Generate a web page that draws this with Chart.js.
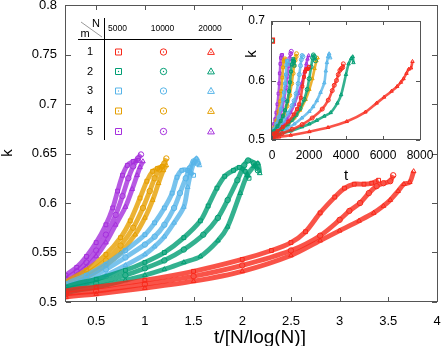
<!DOCTYPE html>
<html>
<head>
<meta charset="utf-8">
<script src="https://cdn.jsdelivr.net/npm/chart.js@4"></script>
<style>
  html, body { margin: 0; padding: 0; background: #fff; }
  #wrap { position: relative; width: 443px; height: 346px; }
  #main { position: absolute; left: 0; top: 0; }
  #inset { position: absolute; left: 220px; top: 0; }
</style>
</head>
<body>
<div id="wrap">
  <canvas id="main" width="443" height="346"></canvas>
  <canvas id="inset" width="223" height="190"></canvas>
</div>
<script>
// ---- data: x = t/[N/log(N)], k ----
const N_VALUES = [5000, 10000, 20000];
const M_VALUES = [1, 2, 3, 4, 5];
const COLORS = ['#f8281a', '#009e73', '#56b4e9', '#e69f00', '#a52fdc'];
const SHAPES = ['rect', 'circle', 'triangle'];

const X_TICKS = [0.5, 1, 1.5, 2, 2.5, 3, 3.5, 4];
const Y_TICKS = [0.5, 0.55, 0.6, 0.65, 0.7, 0.75, 0.8];
const INSET_X_TICKS = [0, 2000, 4000, 6000, 8000];
const INSET_Y_TICKS = [0.5, 0.6, 0.7];

// m = 1 (red)
const m1_n5000_x  = [0, 0.19, 0.5, 1.0, 1.5, 2.0, 2.3, 2.5, 2.65, 2.8, 2.95, 3.05, 3.15, 3.25, 3.33, 3.4];
const m1_n5000_k  = [0.5, 0.511, 0.515, 0.522, 0.531, 0.543, 0.552, 0.56, 0.571, 0.59, 0.606, 0.615, 0.619, 0.619, 0.62, 0.623];
const m1_n10000_x = [0, 0.19, 0.5, 1.0, 1.5, 2.0, 2.5, 2.8, 3.0, 3.1, 3.21, 3.3, 3.38, 3.45, 3.52, 3.55];
const m1_n10000_k = [0.5, 0.508, 0.511, 0.518, 0.526, 0.537, 0.552, 0.567, 0.583, 0.592, 0.6, 0.61, 0.617, 0.62, 0.622, 0.628];
const m1_n20000_x = [0, 0.19, 0.5, 1.0, 1.5, 2.0, 2.5, 2.8, 3.0, 3.2, 3.35, 3.45, 3.52, 3.6, 3.66, 3.72, 3.76];
const m1_n20000_k = [0.5, 0.505, 0.508, 0.514, 0.521, 0.531, 0.547, 0.562, 0.572, 0.582, 0.59, 0.597, 0.603, 0.612, 0.619, 0.621, 0.632];

// m = 2 (green)
const m2_n5000_x  = [0, 0.19, 0.5, 0.8, 1.0, 1.2, 1.4, 1.57, 1.65, 1.74, 1.82, 1.91, 1.97, 2.03, 2.07];
const m2_n5000_k  = [0.5, 0.515, 0.523, 0.532, 0.54, 0.55, 0.565, 0.582, 0.597, 0.615, 0.627, 0.633, 0.636, 0.632, 0.625];
const m2_n10000_x = [0, 0.19, 0.5, 0.8, 1.0, 1.2, 1.4, 1.6, 1.75, 1.85, 1.95, 2.02, 2.06, 2.12, 2.16];
const m2_n10000_k = [0.5, 0.512, 0.519, 0.527, 0.534, 0.542, 0.553, 0.568, 0.585, 0.603, 0.623, 0.638, 0.643, 0.64, 0.633];
const m2_n20000_x = [0, 0.19, 0.5, 0.8, 1.0, 1.2, 1.4, 1.57, 1.75, 1.85, 1.98, 2.05, 2.12, 2.16, 2.18];
const m2_n20000_k = [0.5, 0.509, 0.515, 0.522, 0.527, 0.533, 0.54, 0.546, 0.562, 0.576, 0.61, 0.628, 0.637, 0.64, 0.63];

// m = 3 (sky blue)
const m3_n5000_x  = [0, 0.19, 0.4, 0.6, 0.8, 1.0, 1.1, 1.2, 1.28, 1.33, 1.38, 1.44, 1.5];
const m3_n5000_k  = [0.5, 0.518, 0.527, 0.538, 0.552, 0.568, 0.58, 0.595, 0.61, 0.626, 0.633, 0.633, 0.628];
const m3_n10000_x = [0, 0.19, 0.4, 0.6, 0.8, 1.0, 1.1, 1.2, 1.3, 1.36, 1.42, 1.46, 1.5, 1.54];
const m3_n10000_k = [0.5, 0.515, 0.523, 0.533, 0.545, 0.558, 0.566, 0.578, 0.595, 0.61, 0.625, 0.635, 0.642, 0.64];
const m3_n20000_x = [0, 0.19, 0.4, 0.6, 0.8, 1.0, 1.1, 1.2, 1.3, 1.4, 1.44, 1.47, 1.5, 1.53, 1.56];
const m3_n20000_k = [0.5, 0.512, 0.519, 0.527, 0.537, 0.548, 0.556, 0.566, 0.58, 0.596, 0.616, 0.63, 0.64, 0.645, 0.638];

// m = 4 (orange)
const m4_n5000_x  = [0, 0.19, 0.4, 0.6, 0.75, 0.85, 0.95, 1.02, 1.08, 1.13, 1.18];
const m4_n5000_k  = [0.5, 0.52, 0.532, 0.548, 0.565, 0.582, 0.605, 0.622, 0.632, 0.635, 0.637];
const m4_n10000_x = [0, 0.19, 0.4, 0.6, 0.75, 0.88, 0.98, 1.05, 1.1, 1.15, 1.2, 1.22];
const m4_n10000_k = [0.5, 0.517, 0.528, 0.542, 0.557, 0.575, 0.595, 0.612, 0.625, 0.634, 0.64, 0.645];
const m4_n20000_x = [0, 0.19, 0.4, 0.6, 0.75, 0.9, 1.0, 1.08, 1.14, 1.19, 1.22];
const m4_n20000_k = [0.5, 0.515, 0.525, 0.537, 0.55, 0.568, 0.585, 0.603, 0.62, 0.633, 0.638];

// m = 5 (purple)
const m5_n5000_x  = [0, 0.19, 0.3, 0.4, 0.5, 0.6, 0.67, 0.72, 0.77, 0.82, 0.88, 0.93];
const m5_n5000_k  = [0.5, 0.527, 0.535, 0.546, 0.56, 0.578, 0.595, 0.612, 0.628, 0.638, 0.642, 0.643];
const m5_n10000_x = [0, 0.19, 0.3, 0.4, 0.5, 0.6, 0.7, 0.77, 0.83, 0.88, 0.93, 0.96];
const m5_n10000_k = [0.5, 0.523, 0.531, 0.54, 0.552, 0.568, 0.588, 0.607, 0.625, 0.637, 0.645, 0.649];
const m5_n20000_x = [0, 0.19, 0.3, 0.4, 0.5, 0.6, 0.7, 0.8, 0.87, 0.92, 0.95, 0.98];
const m5_n20000_k = [0.5, 0.52, 0.527, 0.535, 0.546, 0.56, 0.578, 0.596, 0.614, 0.628, 0.636, 0.642];

// stray points at t = 0 in the inset
const OUTLIER_T = [0];
const OUTLIER_K = [0.667];

// [x, k, m index, N index]
const CURVES = [
  [m1_n5000_x, m1_n5000_k, 0, 0], [m1_n10000_x, m1_n10000_k, 0, 1], [m1_n20000_x, m1_n20000_k, 0, 2],
  [m2_n5000_x, m2_n5000_k, 1, 0], [m2_n10000_x, m2_n10000_k, 1, 1], [m2_n20000_x, m2_n20000_k, 1, 2],
  [m3_n5000_x, m3_n5000_k, 2, 0], [m3_n10000_x, m3_n10000_k, 2, 1], [m3_n20000_x, m3_n20000_k, 2, 2],
  [m4_n5000_x, m4_n5000_k, 3, 0], [m4_n10000_x, m4_n10000_k, 3, 1], [m4_n20000_x, m4_n20000_k, 3, 2],
  [m5_n5000_x, m5_n5000_k, 4, 0], [m5_n10000_x, m5_n10000_k, 4, 1], [m5_n20000_x, m5_n20000_k, 4, 2],
];

const FONT = '"Liberation Sans", Arial, Helvetica, sans-serif';

function rgba(hex, a) {
  const v = parseInt(hex.slice(1), 16);
  return `rgba(${(v >> 16) & 255},${(v >> 8) & 255},${v & 255},${a})`;
}

function curveDataset(c, inset) {
  const [xs, ks, mi, ni] = c;
  const n = N_VALUES[ni];
  // inset shows raw t = x * N/log(N)
  const f = inset ? n / Math.log(n) : 1;
  return {
    data: xs.map((x, i) => ({ x: x * f, y: ks[i] })),
    showLine: true,
    tension: 0.3,
    borderColor: rgba(COLORS[mi], 0.8),
    borderWidth: inset ? 2.6 : 4.8,
    pointStyle: SHAPES[ni],
    pointRadius: inset ? 2 : 2.7,
    pointBorderWidth: 1,
    pointBorderColor: COLORS[mi],
    pointBackgroundColor: 'rgba(0,0,0,0)',
  };
}

function fixedScale(ticks, size, horizontal, pad) {
  return {
    type: 'linear',
    min: ticks.min, max: ticks.max,
    grid: { display: false, drawTicks: false },
    border: { display: false },
    ticks: {
      color: '#000', padding: pad,
      font: { family: FONT, size: size },
      callback: v => String(v),
    },
    afterBuildTicks: s => { s.ticks = ticks.list.map(v => ({ value: v })); },
    afterFit: s => {
      if (horizontal) { s.height = ticks.room; s.paddingLeft = 0; s.paddingRight = 0; }
      else { s.width = ticks.room; s.paddingTop = 0; s.paddingBottom = 0; }
    },
  };
}

// frame with inward ticks on all four sides
function framePlugin(xt, yt, len) {
  return {
    id: 'frame',
    afterDatasetsDraw(chart) {
      const { ctx, chartArea: a, scales: { x, y } } = chart;
      ctx.save();
      ctx.strokeStyle = '#555';
      ctx.lineWidth = 1;
      ctx.beginPath();
      xt.forEach(v => {
        const p = Math.round(x.getPixelForValue(v)) + 0.5;
        ctx.moveTo(p, a.bottom); ctx.lineTo(p, a.bottom - len);
        ctx.moveTo(p, a.top); ctx.lineTo(p, a.top + len);
      });
      yt.forEach(v => {
        const p = Math.round(y.getPixelForValue(v)) + 0.5;
        ctx.moveTo(a.left, p); ctx.lineTo(a.left + len, p);
        ctx.moveTo(a.right, p); ctx.lineTo(a.right - len, p);
      });
      ctx.stroke();
      ctx.strokeRect(Math.round(a.left) - 0.5, Math.round(a.top) + 0.5,
        Math.round(a.right - a.left) + 1, Math.round(a.bottom - a.top) - 1);
      ctx.restore();
    },
  };
}

function titlesPlugin(items) {
  return {
    id: 'titles',
    afterDraw(chart) {
      const ctx = chart.ctx;
      ctx.save();
      ctx.fillStyle = '#000';
      ctx.textAlign = 'center';
      ctx.textBaseline = 'middle';
      items.forEach(t => {
        ctx.font = `${t.size}px ${FONT}`;
        ctx.save();
        ctx.translate(t.x, t.y);
        if (t.rot) ctx.rotate(t.rot);
        ctx.fillText(t.text, 0, 0);
        ctx.restore();
      });
      ctx.restore();
    },
  };
}

function marker(ctx, shape, x, y, color) {
  ctx.strokeStyle = color;
  ctx.fillStyle = color;
  ctx.lineWidth = 1;
  ctx.beginPath();
  if (shape === 'rect') ctx.rect(x - 3, y - 3, 6, 6);
  else if (shape === 'circle') ctx.arc(x, y, 3.2, 0, Math.PI * 2);
  else { ctx.moveTo(x, y - 3.6); ctx.lineTo(x + 3.4, y + 2.4); ctx.lineTo(x - 3.4, y + 2.4); ctx.closePath(); }
  ctx.stroke();
  ctx.beginPath();
  ctx.arc(x, y + (shape === 'triangle' ? 0.4 : 0), 0.7, 0, Math.PI * 2);
  ctx.fill();
}

// m / N key table in the upper left
const legendTable = {
  id: 'legendTable',
  afterDatasetsDraw(chart) {
    const ctx = chart.ctx;
    const colX = [118.5, 163.5, 211];
    const rowY = [52, 71.5, 91, 111, 131.5];
    ctx.save();
    ctx.strokeStyle = '#000';
    ctx.lineWidth = 1;
    ctx.beginPath();
    ctx.moveTo(104.5, 18); ctx.lineTo(104.5, 140);
    ctx.moveTo(78, 39.5); ctx.lineTo(232, 39.5);
    ctx.stroke();
    ctx.strokeStyle = '#999';
    ctx.beginPath(); ctx.moveTo(81, 22); ctx.lineTo(102, 37); ctx.stroke();
    ctx.fillStyle = '#000';
    ctx.textAlign = 'center';
    ctx.textBaseline = 'middle';
    ctx.font = `11px ${FONT}`;
    ctx.fillText('N', 96, 24);
    ctx.fillText('m', 85, 33.5);
    ctx.font = `8.5px ${FONT}`;
    N_VALUES.forEach((n, j) => ctx.fillText(String(n), colX[j] - 1, 28.5));
    ctx.font = `11px ${FONT}`;
    M_VALUES.forEach((m, i) => ctx.fillText(String(m), 90, rowY[i]));
    M_VALUES.forEach((m, i) => {
      SHAPES.forEach((s, j) => marker(ctx, s, colX[j], rowY[i], COLORS[i]));
    });
    ctx.restore();
  },
};

new Chart(document.getElementById('main'), {
  type: 'scatter',
  data: { datasets: CURVES.map(c => curveDataset(c, false)) },
  options: {
    responsive: false,
    devicePixelRatio: 1,
    animation: false,
    events: [],
    layout: { padding: { top: 5, right: 6, left: 0, bottom: 0 } },
    plugins: { legend: { display: false }, tooltip: { enabled: false } },
    scales: {
      x: fixedScale({ min: 0.19, max: 4, list: X_TICKS, room: 44 }, 13, true, 12),
      y: fixedScale({ min: 0.5, max: 0.8, list: Y_TICKS, room: 66 }, 13, false, 9),
    },
  },
  plugins: [
    framePlugin(X_TICKS, Y_TICKS, 5),
    legendTable,
    titlesPlugin([
      { text: 't/[N/log(N)]', x: 260, y: 338, size: 19 },
      { text: 'k', x: 8, y: 153, size: 15, rot: -Math.PI / 2 },
    ]),
  ],
});

const insetSets = CURVES.map(c => curveDataset(c, true));
[0, 1].forEach(ci => insetSets.push({
  data: OUTLIER_T.map((t, i) => ({ x: t, y: OUTLIER_K[i] })),
  showLine: false,
  pointStyle: 'rect',
  pointRadius: 3.5 - ci,
  pointBorderWidth: 1.2,
  pointBorderColor: COLORS[ci],
  pointBackgroundColor: 'rgba(0,0,0,0)',
}));

new Chart(document.getElementById('inset'), {
  type: 'scatter',
  data: { datasets: insetSets },
  options: {
    responsive: false,
    devicePixelRatio: 1,
    animation: false,
    events: [],
    layout: { padding: { top: 21, right: 23, left: 0, bottom: 0 } },
    plugins: { legend: { display: false }, tooltip: { enabled: false } },
    scales: {
      x: fixedScale({ min: 0, max: 8000, list: INSET_X_TICKS, room: 50 }, 12, true, 8),
      y: fixedScale({ min: 0.5, max: 0.7, list: INSET_Y_TICKS, room: 52 }, 12, false, 7),
    },
  },
  plugins: [
    framePlugin(INSET_X_TICKS, INSET_Y_TICKS, 4),
    titlesPlugin([
      { text: 't', x: 126, y: 176, size: 15 },
      { text: 'k', x: 32, y: 54, size: 15, rot: -Math.PI / 2 },
    ]),
  ],
});
</script>
</body>
</html>
